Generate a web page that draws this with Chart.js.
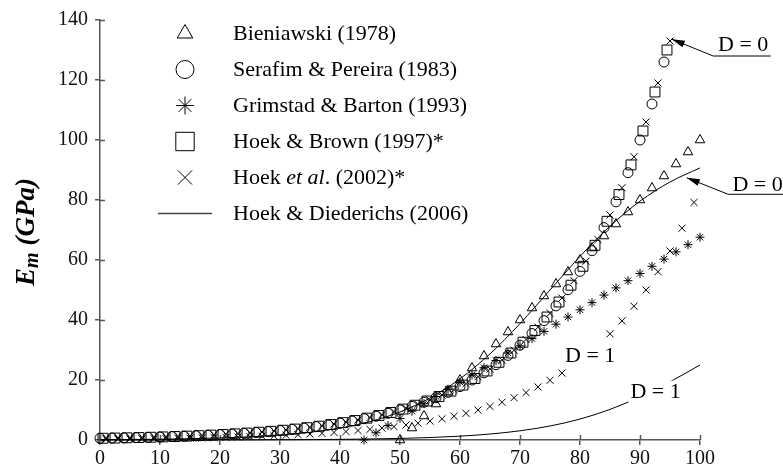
<!DOCTYPE html>
<html>
<head>
<meta charset="utf-8">
<script src="https://cdn.jsdelivr.net/npm/chart.js@4.4.0/dist/chart.umd.min.js"></script>
<style>
  html, body { margin: 0; padding: 0; background: #fff; }
  #wrap { width: 783px; height: 470px; }
</style>
</head>
<body>
<div id="wrap"><canvas id="myChart" width="783" height="470"></canvas></div>
<script>
// BIENIAWSKI (1978) - TRIANGLES
const bieniX = [50, 52, 54, 56, 58, 60, 62, 64, 66, 68, 70, 72, 74, 76, 78, 80, 82, 84, 86, 88, 90, 92, 94, 96, 98, 100];
const bieniY = [0, 4, 8, 12, 16, 20, 24, 28, 32, 36, 40, 44, 48, 52, 56, 60, 64, 68, 72, 76, 80, 84, 88, 92, 96, 100];

// SERAFIM & PEREIRA (1983) - CIRCLES
const serafimX = [0, 2, 4, 6, 8, 10, 12, 14, 16, 18, 20, 22, 24, 26, 28, 30, 32, 34, 36, 38, 40, 42, 44, 46,
  48, 50, 52, 54, 56, 58, 60, 62, 64, 66, 68, 70, 72, 74, 76, 78, 80, 82, 84, 86, 88, 90, 92, 94];
const serafimY = [0.56, 0.63, 0.71, 0.79, 0.89, 1.0, 1.12, 1.26, 1.41, 1.58, 1.78, 2.0, 2.24, 2.51, 2.82, 3.16,
  3.55, 3.98, 4.47, 5.01, 5.62, 6.31, 7.08, 7.94, 8.91, 10.0, 11.2, 12.6, 14.1, 15.9, 17.8, 20.0, 22.4, 25.1,
  28.2, 31.6, 35.5, 39.8, 44.7, 50.1, 56.2, 63.1, 70.8, 79.4, 89.1, 100, 112, 126];

// GRIMSTAD & BARTON (1993) - ASTERISKS
const grimX = [44, 46, 48, 50, 52, 54, 56, 58, 60, 62, 64, 66, 68, 70, 72, 74, 76, 78, 80, 82, 84, 86, 88, 90, 92, 94, 96, 98, 100];
const grimY = [0, 2.4, 4.8, 7.2, 9.6, 12.1, 14.5, 16.9, 19.3, 21.7, 24.1, 26.5, 29.0, 31.4, 33.8, 36.2, 38.6,
  41.0, 43.4, 45.8, 48.3, 50.7, 53.1, 55.5, 57.9, 60.3, 62.7, 65.1, 67.6];

// HOEK & BROWN (1997)* - SQUARES
const brownX = [0.5, 2.5, 4.5, 6.5, 8.5, 10.5, 12.5, 14.5, 16.5, 18.5, 20.5, 22.5, 24.5, 26.5, 28.5, 30.5, 32.5,
  34.5, 36.5, 38.5, 40.5, 42.5, 44.5, 46.5, 48.5, 50.5, 52.5, 54.5, 56.5, 58.5, 60.5, 62.5, 64.5, 66.5, 68.5,
  70.5, 72.5, 74.5, 76.5, 78.5, 80.5, 82.5, 84.5, 86.5, 88.5, 90.5, 92.5, 94.5];
const brownY = [0.58, 0.65, 0.73, 0.82, 0.92, 1.03, 1.16, 1.30, 1.45, 1.63, 1.83, 2.05, 2.30, 2.59, 2.90, 3.26,
  3.65, 4.10, 4.60, 5.16, 5.79, 6.49, 7.29, 8.18, 9.17, 10.3, 11.6, 13.0, 14.5, 16.3, 18.3, 20.5, 23.0, 25.9,
  29.0, 32.6, 36.5, 41.0, 46.0, 51.6, 57.9, 64.9, 72.9, 81.8, 91.7, 103, 116, 130];

// HOEK ET AL. (2002)* - CROSSES, D = 0 AND D = 1
const hoekX = [1, 3, 5, 7, 9, 11, 13, 15, 17, 19, 21, 23, 25, 27, 29, 31, 33, 35, 37, 39, 41, 43, 45, 47, 49,
  51, 53, 55, 57, 59, 61, 63, 65, 67, 69, 71, 73, 75, 77, 79, 81, 83, 85, 87, 89, 91, 93, 95];
const hoekY = [0.60, 0.67, 0.75, 0.84, 0.94, 1.06, 1.19, 1.33, 1.50, 1.68, 1.88, 2.11, 2.37, 2.66, 2.99, 3.35,
  3.76, 4.22, 4.73, 5.31, 5.96, 6.68, 7.50, 8.41, 9.44, 10.6, 11.9, 13.3, 15.0, 16.8, 18.8, 21.1, 23.7, 26.6,
  29.9, 33.5, 37.6, 42.2, 47.3, 53.1, 59.6, 66.8, 75.0, 84.1, 94.4, 106, 119, 133];
const hoekD1X = [1, 3, 5, 7, 9, 11, 13, 15, 17, 19, 21, 23, 25, 27, 29, 31, 33, 35, 37, 39, 41, 43, 45, 47, 49,
  51, 53, 55, 57, 59, 61, 63, 65, 67, 69, 71, 73, 75, 77, 79, 81, 83, 85, 87, 89, 91, 93, 95, 97, 99];
const hoekD1Y = [0.28, 0.32, 0.35, 0.40, 0.45, 0.50, 0.56, 0.63, 0.71, 0.79, 0.89, 1.00, 1.12, 1.26, 1.41, 1.58,
  1.77, 1.99, 2.23, 2.51, 2.81, 3.16, 3.54, 3.97, 4.46, 5.00, 5.61, 6.30, 7.06, 7.92, 8.89, 9.98, 11.2, 12.6,
  14.1, 15.8, 17.7, 19.9, 22.3, 25.1, 28.1, 31.6, 35.4, 39.7, 44.6, 50.0, 56.1, 63.0, 70.6, 79.2];

// HOEK & DIEDERICHS (2006) - CURVES
const curveX = [0, 5, 10, 15, 20, 25, 30, 35, 40, 45, 50, 55, 60, 65, 70, 75, 80, 85, 90, 95, 100];
const curveD0 = [0.11, 0.17, 0.27, 0.43, 0.67, 1.05, 1.65, 2.57, 3.99, 6.14, 9.35, 14.0, 20.4, 28.7, 38.8, 50.0,
  61.2, 71.3, 79.6, 86.0, 90.7];
const curveD1 = [0.01, 0.01, 0.01, 0.02, 0.03, 0.05, 0.09, 0.14, 0.21, 0.34, 0.53, 0.82, 1.28, 1.99, 3.07, 4.67,
  6.98, 10.2, 14.4, 19.4, 25.0];

// AXIS TICKS
const xTicks = [0, 10, 20, 30, 40, 50, 60, 70, 80, 90, 100];
const yTicks = [0, 20, 40, 60, 80, 100, 120, 140];

const FONT = "'Liberation Serif', 'Times New Roman', Times, serif";
const AXIS = "#555";

const pts = (xs, ys) => xs.map((x, i) => ({ x: x, y: ys[i] }));

function markerSet(label, xs, ys, style, r) {
  return {
    label: label,
    data: pts(xs, ys),
    pointStyle: style,
    pointRadius: r,
    pointHoverRadius: r,
    pointBorderWidth: 1,
    borderColor: "#000",
    backgroundColor: "rgba(0,0,0,0)",
    showLine: false,
    clip: false,
    order: 1,
  };
}

function curveSet(label, ys) {
  return {
    label: label,
    data: pts(curveX, ys),
    showLine: true,
    pointRadius: 0,
    borderColor: "#000",
    borderWidth: 1,
    cubicInterpolationMode: "monotone",
    clip: false,
    order: 2,
  };
}

// LEGEND ROWS (text pieces: normal / italic)
const legendRows = [
  { set: 0, r: 9, text: [["Bieniawski (1978)", "normal"]] },
  { set: 1, r: 9, text: [["Serafim & Pereira (1983)", "normal"]] },
  { set: 2, r: 9, text: [["Grimstad & Barton (1993)", "normal"]] },
  { set: 3, r: 13, text: [["Hoek & Brown (1997)*", "normal"]] },
  { set: 4, r: 10, text: [["Hoek ", "normal"], ["et al", "italic"], [". (2002)*", "normal"]] },
  { set: -1, r: 0, text: [["Hoek & Diederichs (2006)", "normal"]] },
];

// D LABELS (data units); mask = white box [left, top, right, bottom] around the text
const notes = [
  { text: "D = 0", x: 103.0, y: 129.7, line: [102.2, 111.8, 128.0], tip: [95.3, 133.6] },
  { text: "D = 0", x: 105.4, y: 83.0, line: [104.7, 114.0, 81.9], tip: [97.8, 87.4] },
  { text: "D = 1", x: 77.5, y: 26.1, mask: [-1, 23, 1, 8] },
  { text: "D = 1", x: 88.4, y: 14.1, mask: [2, 17, 2, 5] },
];

const innerTicks = {
  id: "innerTicks",
  beforeDatasetsDraw(chart) {
    const { ctx, chartArea, scales } = chart;
    ctx.save();
    ctx.strokeStyle = AXIS;
    ctx.lineWidth = 1.5;
    scales.x.ticks.forEach((t) => {
      const px = Math.round(scales.x.getPixelForValue(t.value)) + 0.5;
      ctx.beginPath();
      ctx.moveTo(px, chartArea.bottom);
      ctx.lineTo(px, chartArea.bottom - 5);
      ctx.stroke();
    });
    scales.y.ticks.forEach((t) => {
      const py = Math.round(scales.y.getPixelForValue(t.value)) + 0.5;
      ctx.beginPath();
      ctx.moveTo(chartArea.left, py);
      ctx.lineTo(chartArea.left + 5, py);
      ctx.stroke();
    });
    ctx.restore();
  },
};

function arrow(ctx, x0, y0, x1, y1) {
  ctx.beginPath();
  ctx.moveTo(x0, y0);
  ctx.lineTo(x1, y1);
  ctx.stroke();
  const a = Math.atan2(y1 - y0, x1 - x0);
  const len = 13, hw = 3.5;
  ctx.beginPath();
  ctx.moveTo(x1, y1);
  ctx.lineTo(x1 - len * Math.cos(a) + hw * Math.sin(a), y1 - len * Math.sin(a) - hw * Math.cos(a));
  ctx.lineTo(x1 - len * Math.cos(a) - hw * Math.sin(a), y1 - len * Math.sin(a) + hw * Math.cos(a));
  ctx.closePath();
  ctx.fill();
}

const extras = {
  id: "extras",
  afterDatasetsDraw(chart) {
    const { ctx, scales } = chart;
    const sx = scales.x, sy = scales.y;
    ctx.save();

    // D LABELS + ARROWS
    ctx.font = "22px " + FONT;
    ctx.textBaseline = "alphabetic";
    ctx.textAlign = "left";
    notes.forEach((n) => {
      const px = sx.getPixelForValue(n.x), py = sy.getPixelForValue(n.y);
      const w = ctx.measureText(n.text).width;
      if (n.mask) {
        const [l, t, r, b] = n.mask;
        ctx.fillStyle = "#fff";
        ctx.fillRect(px - l, py - t, w + l + r, t + b);
      }
      ctx.fillStyle = "#000";
      ctx.fillText(n.text, px, py);
      if (n.line) {
        ctx.strokeStyle = "#000";
        ctx.lineWidth = 1;
        const ly = sy.getPixelForValue(n.line[2]);
        const lx0 = sx.getPixelForValue(n.line[0]), lx1 = sx.getPixelForValue(n.line[1]);
        ctx.beginPath();
        ctx.moveTo(lx0, ly);
        ctx.lineTo(lx1, ly);
        ctx.stroke();
        arrow(ctx, lx0, ly, sx.getPixelForValue(n.tip[0]), sy.getPixelForValue(n.tip[1]));
      }
    });

    // LEGEND
    const drawPoint = Chart.helpers && Chart.helpers.drawPoint;
    let base = 40;
    legendRows.forEach((row) => {
      const cy = base - 6.5;
      ctx.strokeStyle = "#000";
      ctx.fillStyle = "rgba(0,0,0,0)";
      ctx.lineWidth = 1;
      if (row.set < 0) {
        ctx.strokeStyle = "#444";
        ctx.lineWidth = 1.5;
        ctx.beginPath();
        ctx.moveTo(158, cy);
        ctx.lineTo(212, cy);
        ctx.stroke();
      } else if (drawPoint) {
        const ds = chart.data.datasets[row.set];
        drawPoint(ctx, { pointStyle: ds.pointStyle, rotation: 0, radius: row.r, borderWidth: 1 }, 185, cy);
      }
      let tx = 233;
      ctx.fillStyle = "#000";
      row.text.forEach(([t, st]) => {
        ctx.font = st + " 22px " + FONT;
        ctx.fillText(t, tx, base);
        tx += ctx.measureText(t).width;
      });
      base += 36;
    });

    // Y AXIS TITLE: Em (GPa)
    ctx.translate(34, 232);
    ctx.rotate(-Math.PI / 2);
    ctx.fillStyle = "#000";
    const big = "italic bold 27px " + FONT, small = "italic bold 20px " + FONT;
    ctx.font = big;
    const wE = ctx.measureText("E").width;
    const wRest = ctx.measureText(" (GPa)").width;
    ctx.font = small;
    const wm = ctx.measureText("m").width;
    let x = -(wE + wm + wRest) / 2;
    ctx.font = big;
    ctx.fillText("E", x, 0);
    x += wE;
    ctx.font = small;
    ctx.fillText("m", x, 4);
    x += wm;
    ctx.font = big;
    ctx.fillText(" (GPa)", x, 0);

    ctx.restore();
  },
};

const ctx = document.getElementById("myChart");
const myChart = new Chart(ctx, {
  type: "scatter",
  data: {
    datasets: [
      markerSet("Bieniawski (1978)", bieniX, bieniY, "triangle", 5.5),
      markerSet("Serafim & Pereira (1983)", serafimX, serafimY, "circle", 5),
      markerSet("Grimstad & Barton (1993)", grimX, grimY, "star", 4.5),
      markerSet("Hoek & Brown (1997)*", brownX, brownY, "rect", 7),
      markerSet("Hoek et al. (2002)*", hoekX, hoekY, "crossRot", 5),
      markerSet("Hoek et al. (2002)* D=1", hoekD1X, hoekD1Y, "crossRot", 5),
      curveSet("Hoek & Diederichs (2006)", curveD0),
      curveSet("Hoek & Diederichs (2006) D=1", curveD1),
    ],
  },
  options: {
    responsive: false,
    animation: false,
    events: [],
    layout: { padding: { top: 20, right: 83, left: 0, bottom: 0 } },
    plugins: { legend: { display: false }, tooltip: { enabled: false } },
    scales: {
      x: {
        type: "linear",
        min: 0,
        max: 100,
        afterBuildTicks: (s) => { s.ticks = xTicks.map((v) => ({ value: v })); },
        afterFit: (s) => { s.height = 30; },
        ticks: { color: "#111", font: { family: FONT, size: 20 }, padding: 2, maxRotation: 0 },
        grid: { drawOnChartArea: false, tickLength: 5, color: AXIS, lineWidth: 1.5 },
        border: { color: AXIS, width: 1.5 },
      },
      y: {
        type: "linear",
        min: 0,
        max: 140,
        afterBuildTicks: (s) => { s.ticks = yTicks.map((v) => ({ value: v })); },
        afterFit: (s) => { s.width = 100; },
        ticks: { color: "#111", font: { family: FONT, size: 20 }, padding: 7 },
        grid: { drawOnChartArea: false, tickLength: 5, color: AXIS, lineWidth: 1.5 },
        border: { color: AXIS, width: 1.5 },
      },
    },
  },
  plugins: [innerTicks, extras],
});
</script>
</body>
</html>
